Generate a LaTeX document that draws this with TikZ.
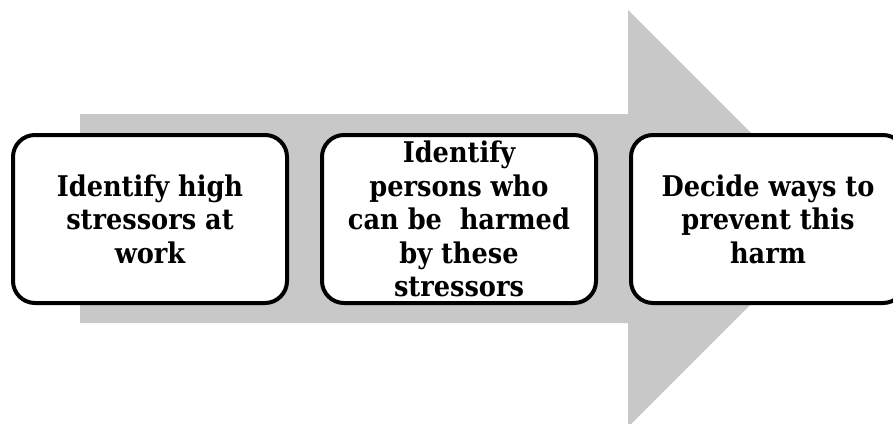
\documentclass[tikz,border=0pt]{standalone}
\usepackage{fontspec}
\setmainfont{DejaVu Serif Condensed}
\usepackage{tikz}
\usetikzlibrary{arrows,shapes}
\pgfdeclarelayer{background}
\pgfsetlayers{background,main}
\definecolor{arrowgray}{RGB}{200,200,200}
\tikzstyle{stepbox}=[rectangle,rounded corners=22pt,draw=black,line width=4pt,fill=white,minimum width=274pt,minimum height=168pt,inner sep=0pt,align=center,font=\fontsize{28.5}{33.5}\selectfont\bfseries]
\tikzstyle{big arrow}=[fill=arrowgray]

\begin{document}
\begin{tikzpicture}[x=1pt,y=-1pt]
    \useasboundingbox (0,0) rectangle (893,423);
    % First we draw the three steps
    \foreach \pos/\name/\txt in {{(150,219)/identify/{Identify high\\stressors at\\work}}, {(459,219)/persons/{Identify\\persons who\\can be~ harmed\\by these\\stressors}}, {(768,219)/prevent/{Decide ways to\\prevent this\\harm}}}
        \node[stepbox] (\name) at \pos {\txt};

    % Then the big arrow behind them
    \begin{pgfonlayer}{background}
        \path[big arrow] (80,114) -- (628,114) -- (628,10) -- (836.5,218.5) -- (628,427) -- (628,323) -- (80,323) -- cycle;
    \end{pgfonlayer}
\end{tikzpicture}
\end{document}
